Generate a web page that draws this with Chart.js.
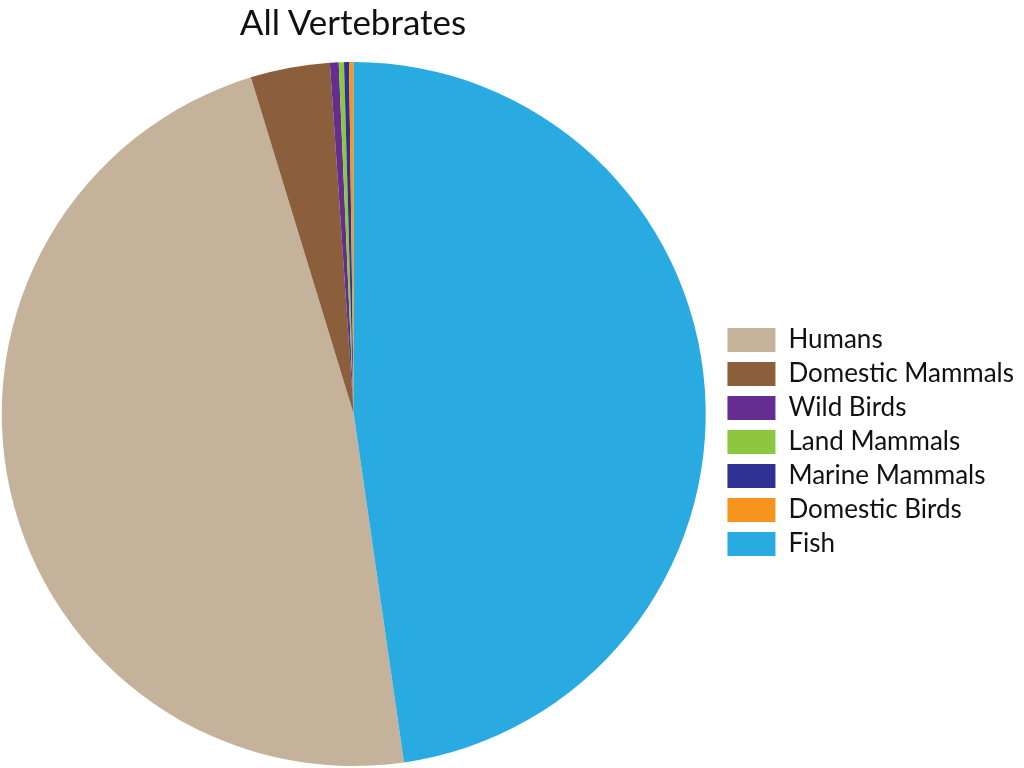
<!DOCTYPE html>
<html lang="en">
<head>
  <meta charset="UTF-8">
  <title>All Vertebrates</title>
  <script src="https://cdn.jsdelivr.net/npm/chart.js"></script>
  <style>
    body {
      margin: 0;
      background: #ffffff;
      font-family: 'Lato', sans-serif;
      overflow: hidden;
    }
    .wrap {
      position: relative;
      width: 1024px;
      height: 768px;
      overflow: hidden;
    }
    /* canvas pokes out a little on the left so the pie sits at the edge */
    #pie {
      position: absolute;
      left: -12px;
      top: 0;
    }
    /* title sits over the pie, not over the whole canvas */
    .title {
      position: absolute;
      left: 0;
      top: 0;
      width: 706px;
      text-align: center;
      font-size: 35px;
      line-height: 42px;
      color: #111;
      z-index: 1;
    }
  </style>
</head>
<body>

  <div class="wrap">
    <div class="title">All Vertebrates</div>
    <canvas id="pie" width="1036" height="768"></canvas>
  </div>

  <script>
    // Share of vertebrate biomass (%)
    const groups = ["Humans", "Domestic Mammals", "Wild Birds", "Land Mammals", "Marine Mammals", "Domestic Birds", "Fish"];
    const shares = [47.56, 3.64, 0.4, 0.24, 0.23, 0.21, 47.72];
    const colours = ["#c4b39a", "#8b5e3c", "#662d91", "#8dc63f", "#2e3192", "#f7941d", "#29abe2"];

    // Humans starts where Fish ends, Fish starts at 12 o'clock
    const startAngle = shares[shares.length - 1] / 100 * 360;

    const ctx = document.getElementById('pie').getContext('2d');
    new Chart(ctx, {
      type: 'pie',
      data: {
        labels: groups,
        datasets: [{
          data: shares,
          backgroundColor: colours,
          borderWidth: 0
        }]
      },
      options: {
        responsive: false,
        animation: false,
        rotation: startAngle,
        layout: {
          padding: { top: 62, left: 0, right: 0, bottom: 2 }
        },
        plugins: {
          tooltip: { enabled: false },
          legend: {
            position: 'right',
            align: 'center',
            // blank legend title only pushes the items down a bit
            title: {
              display: true,
              text: ' ',
              font: { size: 10 },
              padding: { top: 0, bottom: 44 }
            },
            labels: {
              boxWidth: 48,
              boxHeight: 24,
              padding: 8,
              color: '#111',
              font: { family: 'Lato', size: 26 }
            }
          }
        }
      }
    });
  </script>

</body>
</html>
